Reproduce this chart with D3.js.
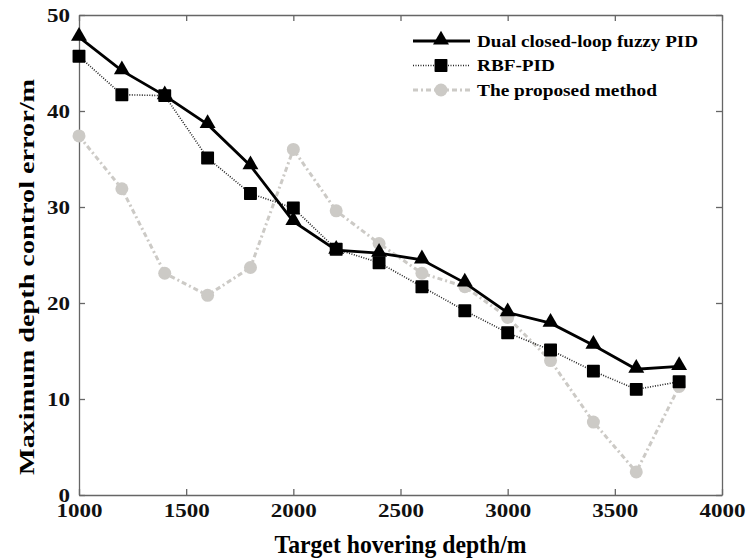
<!DOCTYPE html>
<meta charset="utf-8">
<head>
<script src="https://d3js.org/d3.v7.min.js"></script>
<style>
  body { margin: 0; background: #fff; }
  text { font-family: "Liberation Serif", "Times New Roman", serif; font-weight: bold; }
</style>
</head>
<body>
<div id="my_dataviz"></div>
<script>

    // data
    var depths = [1000, 1200, 1400, 1600, 1800, 2000, 2200, 2400, 2600, 2800, 3000, 3200, 3400, 3600, 3800];
    var fuzzyPid = [47.7, 44.2, 41.6, 38.6, 34.3, 28.5, 25.5, 25.2, 24.5, 22.1, 19.0, 17.9, 15.6, 13.1, 13.4];
    var rbfPid = [45.7, 41.7, 41.6, 35.1, 31.4, 29.9, 25.6, 24.2, 21.7, 19.2, 16.9, 15.1, 12.9, 11.0, 11.8];
    var proposed = [37.4, 31.9, 23.1, 20.8, 23.7, 36.0, 29.6, 26.2, 23.1, 21.7, 18.5, 14.0, 7.6, 2.4, 11.3];
    var xTicks = [1000, 1500, 2000, 2500, 3000, 3500, 4000];
    var yTicks = [0, 10, 20, 30, 40, 50];
    var seriesNames = ["Dual closed-loop fuzzy PID", "RBF-PID", "The proposed method"];

    // set the dimensions and margins of the graph
    var margin = {top: 15, right: 24, bottom: 64, left: 79},
        width = 746 - margin.left - margin.right,
        height = 559 - margin.top - margin.bottom;

    var svg = d3.select("#my_dataviz")
      .append("svg")
        .attr("width", width + margin.left + margin.right)
        .attr("height", height + margin.top + margin.bottom)
      .append("g")
        .attr("transform", "translate(" + margin.left + "," + margin.top + ")");

    var x = d3.scaleLinear().domain([1000, 4000]).range([0, width]);
    var y = d3.scaleLinear().domain([0, 50]).range([height, 0]);

    var axisColor = "#666";
    var fmt = d3.format("d");

    // bottom + left axes, ticks pointing inward
    var xAxis = svg.append("g")
      .attr("transform", "translate(0," + height + ")")
      .call(d3.axisBottom(x).tickValues(xTicks).tickFormat(fmt).tickSizeInner(-6).tickSizeOuter(0).tickPadding(10));
    var yAxis = svg.append("g")
      .call(d3.axisLeft(y).tickValues(yTicks).tickFormat(fmt).tickSizeInner(-6).tickSizeOuter(0).tickPadding(9));
    // top + right ticks
    var xTop = svg.append("g")
      .call(d3.axisTop(x).tickValues(xTicks).tickSizeInner(-6).tickSizeOuter(0).tickFormat(""));
    var yRight = svg.append("g")
      .attr("transform", "translate(" + width + ",0)")
      .call(d3.axisRight(y).tickValues(yTicks).tickSizeInner(-6).tickSizeOuter(0).tickFormat(""));

    [xAxis, yAxis, xTop, yRight].forEach(function(g) {
      g.selectAll("path, line").attr("stroke", axisColor).attr("stroke-width", 1.3);
      g.selectAll("text")
        .style("font-size", "19px")
        .attr("fill", "#111")
        .attr("lengthAdjust", "spacingAndGlyphs")
        .attr("textLength", function() { return this.textContent.length * 11.5; });
    });
    xAxis.selectAll("text").attr("dy", "0.62em");
    yAxis.selectAll("text").attr("dy", "0.34em");

    // axis titles
    svg.append("text")
      .attr("x", width / 2)
      .attr("y", 553 - margin.top)
      .attr("text-anchor", "middle")
      .attr("textLength", 252)
      .attr("lengthAdjust", "spacingAndGlyphs")
      .style("font-size", "25px")
      .text("Target hovering depth/m");

    svg.append("text")
      .attr("transform", "translate(-45," + (277 - margin.top) + ")rotate(-90)")
      .attr("text-anchor", "middle")
      .attr("textLength", 396)
      .attr("lengthAdjust", "spacingAndGlyphs")
      .style("font-size", "22px")
      .text("Maximum depth control error/m");

    var line = d3.line()
      .x(function(d) { return x(d[0]); })
      .y(function(d) { return y(d[1]); });

    function pairs(vals) { return depths.map(function(d, i) { return [d, vals[i]]; }); }

    var gray = "#cccac6";
    var triangle = d3.symbol().type(d3.symbolTriangle).size(110);
    var square = d3.symbol().type(d3.symbolSquare).size(130);

    // proposed method (gray, dash-dot, circles)
    svg.append("path")
      .datum(pairs(proposed))
      .attr("fill", "none")
      .attr("stroke", gray)
      .attr("stroke-width", 3)
      .attr("stroke-dasharray", "5,3,2,3")
      .attr("d", line);
    svg.append("g").selectAll("circle")
      .data(pairs(proposed))
      .enter().append("circle")
        .attr("cx", function(d) { return x(d[0]); })
        .attr("cy", function(d) { return y(d[1]); })
        .attr("r", 6.5)
        .attr("fill", gray);

    // RBF-PID (dotted, squares)
    svg.append("path")
      .datum(pairs(rbfPid))
      .attr("fill", "none")
      .attr("stroke", "#222")
      .attr("stroke-width", 1.6)
      .attr("stroke-dasharray", "1,1.5")
      .attr("d", line);
    svg.append("g").selectAll("path")
      .data(pairs(rbfPid))
      .enter().append("path")
        .attr("d", square)
        .attr("transform", function(d) { return "translate(" + x(d[0]) + "," + y(d[1]) + ")"; })
        .attr("fill", "#000")
        .attr("stroke", "#000")
        .attr("stroke-width", 1.5)
        .attr("stroke-linejoin", "round");

    // fuzzy PID (solid, triangles)
    svg.append("path")
      .datum(pairs(fuzzyPid))
      .attr("fill", "none")
      .attr("stroke", "#000")
      .attr("stroke-width", 2.8)
      .attr("d", line);
    svg.append("g").selectAll("path")
      .data(pairs(fuzzyPid))
      .enter().append("path")
        .attr("d", triangle)
        .attr("transform", function(d) { return "translate(" + x(d[0]) + "," + (y(d[1]) - 1) + ")"; })
        .attr("fill", "#000");

    // legend
    var legend = svg.append("g").attr("transform", "translate(334,26)");
    var styles = [
      {stroke: "#000", width: 2.8, dash: null},
      {stroke: "#222", width: 1.6, dash: "1,1.5"},
      {stroke: gray, width: 3, dash: "5,3,2,3"}
    ];
    var legendWidths = [221, 78, 180];
    seriesNames.forEach(function(name, i) {
      var row = legend.append("g").attr("transform", "translate(0," + (i * 24.5) + ")");
      row.append("line")
        .attr("x1", 0).attr("x2", 57).attr("y1", 0).attr("y2", 0)
        .attr("stroke", styles[i].stroke)
        .attr("stroke-width", styles[i].width)
        .attr("stroke-dasharray", styles[i].dash);
      if (i === 0) {
        row.append("path").attr("d", triangle).attr("transform", "translate(28,-1)").attr("fill", "#000");
      } else if (i === 1) {
        row.append("path").attr("d", square).attr("transform", "translate(28,0)")
          .attr("fill", "#000").attr("stroke", "#000").attr("stroke-width", 1.5).attr("stroke-linejoin", "round");
      } else {
        row.append("circle").attr("cx", 28).attr("cy", 0).attr("r", 6.5).attr("fill", gray);
      }
      row.append("text")
        .attr("x", 64)
        .attr("y", 0)
        .attr("dy", "0.35em")
        .attr("textLength", legendWidths[i])
        .attr("lengthAdjust", "spacingAndGlyphs")
        .style("font-size", "17px")
        .text(name);
    });

</script>
</body>
</html>
